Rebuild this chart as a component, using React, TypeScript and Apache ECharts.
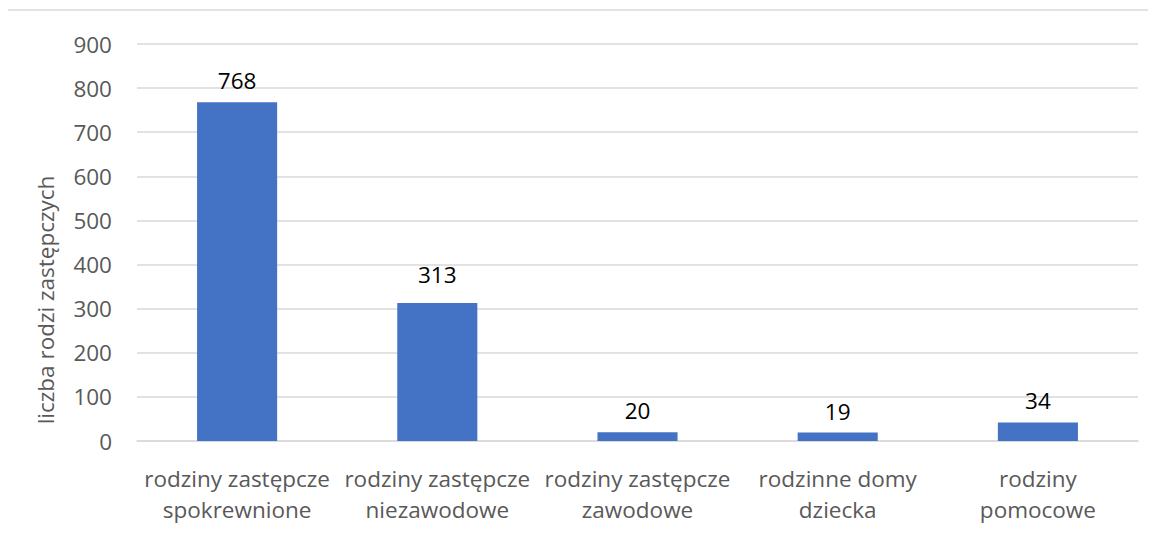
import React, { useEffect, useRef } from "react";
import * as echarts from "echarts";

const categories = [
  "rodziny zastępcze\nspokrewnione",
  "rodziny zastępcze\nniezawodowe",
  "rodziny zastępcze\nzawodowe",
  "rodzinne domy\ndziecka",
  "rodziny\npomocowe",
];
const barValues = [768, 313, 20, 19, 42];
const labelTexts = ["768", "313", "20", "19", "34"];
const yAxisTitle = "liczba rodzi zastępczych";

const FONT = "'Open Sans', 'Noto Sans', sans-serif";

export default function App() {
  const ref = useRef<HTMLDivElement>(null);
  useEffect(() => {
    if (!ref.current) return;
    const chart = echarts.init(ref.current, undefined, { renderer: "svg" });
    chart.setOption({
      animation: false,
      textStyle: { fontFamily: FONT },
      grid: { left: 137, right: 18, top: 44, bottom: 100, containLabel: false },
      graphic: [
        {
          type: "rect",
          shape: { x: 7, y: 10, width: 1200, height: 600 },
          style: { fill: "none", stroke: "#d9d9d9", lineWidth: 1.5 },
          silent: true,
        },
        {
          type: "text",
          x: 45,
          y: 300,
          rotation: Math.PI / 2,
          style: {
            text: yAxisTitle,
            fill: "#595959",
            font: `22.5px ${FONT}`,
            align: "center",
            verticalAlign: "middle",
          },
        },
      ],
      xAxis: {
        type: "category",
        data: categories,
        axisLine: { show: true, lineStyle: { color: "#d9d9d9", width: 1.5 } },
        axisTick: { show: false },
        axisLabel: {
          color: "#595959",
          fontSize: 22.5,
          lineHeight: 31,
          margin: 22,
          interval: 0,
          fontFamily: FONT,
        },
      },
      yAxis: {
        type: "value",
        min: 0,
        max: 900,
        interval: 100,
        axisLine: { show: false },
        axisTick: { show: false },
        splitLine: { lineStyle: { color: "#d9d9d9", width: 1.5 } },
        axisLabel: { color: "#595959", fontSize: 22.5, margin: 25, fontFamily: FONT },
      },
      series: [
        {
          type: "bar",
          data: barValues.map((v, i) =>
            i === 1 ? { value: v, label: { distance: 17 } } : v
          ),
          barWidth: "40%",
          itemStyle: { color: "#4472c4" },
          label: {
            show: true,
            position: "top",
            distance: 10,
            color: "#000000",
            fontSize: 22.5,
            fontFamily: FONT,
            formatter: (p: any) => labelTexts[p.dataIndex],
          },
        },
      ],
    });
    return () => chart.dispose();
  }, []);
  return <div ref={ref} style={{ width: 1156, height: 541, margin: -8 }} />;
}
